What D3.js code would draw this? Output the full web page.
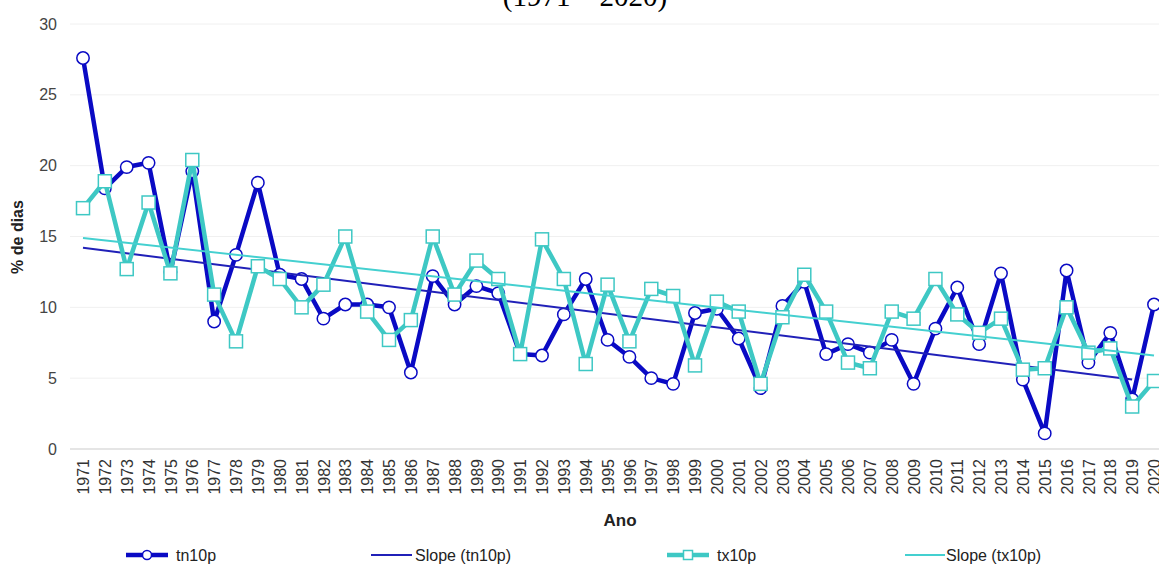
<!DOCTYPE html>
<html><head><meta charset="utf-8">
<script src="https://cdn.jsdelivr.net/npm/d3@7"></script>
<style>body{margin:0;background:#fff;} svg{display:block;}</style>
</head><body>
<svg id="chart" width="1159" height="565"></svg>
<script>
const years = [1971,1972,1973,1974,1975,1976,1977,1978,1979,1980,1981,1982,1983,1984,1985,1986,1987,1988,1989,1990,1991,1992,1993,1994,1995,1996,1997,1998,1999,2000,2001,2002,2003,2004,2005,2006,2007,2008,2009,2010,2011,2012,2013,2014,2015,2016,2017,2018,2019,2020];
const tn10p = [27.6,18.4,19.9,20.2,12.5,19.6,9.0,13.7,18.8,12.3,12.0,9.2,10.2,10.2,10.0,5.4,12.2,10.2,11.5,11.0,6.7,6.6,9.5,12.0,7.7,6.5,5.0,4.6,9.6,9.9,7.8,4.3,10.1,11.8,6.7,7.4,6.8,7.7,4.6,8.5,11.4,7.4,12.4,4.9,1.1,12.6,6.1,8.2,3.5,10.2];
const tx10p = [17.0,18.9,12.7,17.4,12.4,20.4,10.9,7.6,12.9,12.0,10.0,11.6,15.0,9.7,7.7,9.1,15.0,10.9,13.3,12.0,6.7,14.8,12.0,6.0,11.6,7.6,11.3,10.8,5.9,10.4,9.7,4.6,9.3,12.3,9.7,6.1,5.7,9.7,9.2,12.0,9.5,8.2,9.2,5.6,5.7,10.0,6.8,7.1,3.0,4.8];
// trend line end points: [year, value]
const slopeTn = [[1971,14.2],[2019,4.9]];
const slopeTx = [[1971,14.9],[2020,6.6]];
const yTicks = [0,5,10,15,20,25,30];
const title = "(1971 – 2020)";
const yTitle = "% de dias";
const xTitle = "Ano";
const legendItems = ["tn10p","Slope (tn10p)","tx10p","Slope (tx10p)"];

const cTn = "#0a0ac4", cTx = "#3ec8c4", cSlTn = "#2020b8", cSlTx = "#44d0d0";
const svg = d3.select("#chart");
const x = d3.scaleLinear().domain([1971,2020]).range([83,1154]);
const y = d3.scaleLinear().domain([0,30]).range([449,24]);

// title (cropped at top)
svg.append("text").attr("x",585).attr("y",6).attr("text-anchor","middle")
  .attr("font-family","Liberation Serif, Times New Roman, serif").attr("font-size",29).attr("fill","#000").text(title);

// grid
svg.append("g").selectAll("line").data(yTicks).join("line")
  .attr("x1",70).attr("x2",1159).attr("y1",d=>y(d)).attr("y2",d=>y(d))
  .attr("stroke",d=>d===0?"#dcdcdc":"#f0f0f0").attr("stroke-width",d=>d===0?1.5:1);

// y axis labels
const yAxis = svg.append("g").attr("transform","translate(57,0)")
  .call(d3.axisLeft(y).tickValues(yTicks).tickSize(0).tickPadding(0));
yAxis.select(".domain").remove();
yAxis.selectAll("text").attr("font-family","Liberation Sans, Arial, sans-serif").attr("font-size",16).attr("fill","#444");

// x axis labels
const xAxis = svg.append("g").attr("transform","translate(0,459)")
  .call(d3.axisBottom(x).tickValues(years).tickFormat(d3.format("d")).tickSize(0).tickPadding(0));
xAxis.select(".domain").remove();
xAxis.selectAll("text").attr("font-family","Liberation Sans, Arial, sans-serif").attr("font-size",16).attr("fill","#333")
  .attr("transform","rotate(-90)").attr("text-anchor","end").attr("dx",0).attr("dy","0.35em").attr("y",0);

svg.append("text").attr("transform","translate(23,237) rotate(-90)").attr("text-anchor","middle")
  .attr("font-family","Liberation Sans, Arial, sans-serif").attr("font-weight","bold").attr("font-size",16).attr("fill","#222").text(yTitle);
svg.append("text").attr("x",620).attr("y",526).attr("text-anchor","middle")
  .attr("font-family","Liberation Sans, Arial, sans-serif").attr("font-weight","bold").attr("font-size",17).attr("fill","#222").text(xTitle);

const line = d3.line().x(d=>x(d[0])).y(d=>y(d[1]));
const tnPts = years.map((yr,i)=>[yr,tn10p[i]]);
const txPts = years.map((yr,i)=>[yr,tx10p[i]]);

// tn10p
svg.append("path").attr("d",line(tnPts)).attr("fill","none").attr("stroke",cTn).attr("stroke-width",4.5).attr("stroke-linejoin","round");
svg.append("g").selectAll("circle").data(tnPts).join("circle")
  .attr("cx",d=>x(d[0])).attr("cy",d=>y(d[1])).attr("r",6.2).attr("fill","#fff").attr("stroke",cTn).attr("stroke-width",1.5);
// slope tn
svg.append("path").attr("d",line(slopeTn)).attr("fill","none").attr("stroke",cSlTn).attr("stroke-width",2);
// tx10p
svg.append("path").attr("d",line(txPts)).attr("fill","none").attr("stroke",cTx).attr("stroke-width",4.5).attr("stroke-linejoin","round");
svg.append("g").selectAll("rect").data(txPts).join("rect")
  .attr("x",d=>x(d[0])-6.5).attr("y",d=>y(d[1])-6.5).attr("width",13).attr("height",13).attr("fill","#fff").attr("stroke",cTx).attr("stroke-width",1.5);
// slope tx
svg.append("path").attr("d",line(slopeTx)).attr("fill","none").attr("stroke",cSlTx).attr("stroke-width",2);

// legend
const lg = svg.append("g").attr("font-family","Liberation Sans, Arial, sans-serif").attr("font-size",16).attr("fill","#222");
const ly = 555;
const lx = [126,371,667,905];
const ltx = [176,415,717,946];
// tn10p
lg.append("line").attr("x1",lx[0]).attr("x2",lx[0]+42).attr("y1",ly).attr("y2",ly).attr("stroke",cTn).attr("stroke-width",4.5);
lg.append("circle").attr("cx",lx[0]+21).attr("cy",ly).attr("r",4.5).attr("fill","#fff").attr("stroke",cTn).attr("stroke-width",1.5);
// slope tn
lg.append("line").attr("x1",lx[1]).attr("x2",lx[1]+41).attr("y1",ly).attr("y2",ly).attr("stroke",cSlTn).attr("stroke-width",2);
// tx10p
lg.append("line").attr("x1",lx[2]).attr("x2",lx[2]+42).attr("y1",ly).attr("y2",ly).attr("stroke",cTx).attr("stroke-width",4.5);
lg.append("rect").attr("x",lx[2]+21-4.5).attr("y",ly-4.5).attr("width",9).attr("height",9).attr("fill","#fff").attr("stroke",cTx).attr("stroke-width",1.5);
// slope tx
lg.append("line").attr("x1",lx[3]).attr("x2",lx[3]+40).attr("y1",ly).attr("y2",ly).attr("stroke",cSlTx).attr("stroke-width",2);
lg.selectAll("text.lt").data(legendItems).join("text").attr("class","lt")
  .attr("x",(d,i)=>ltx[i]).attr("y",ly).attr("dy","0.35em").text(d=>d);
</script>
</body></html>
